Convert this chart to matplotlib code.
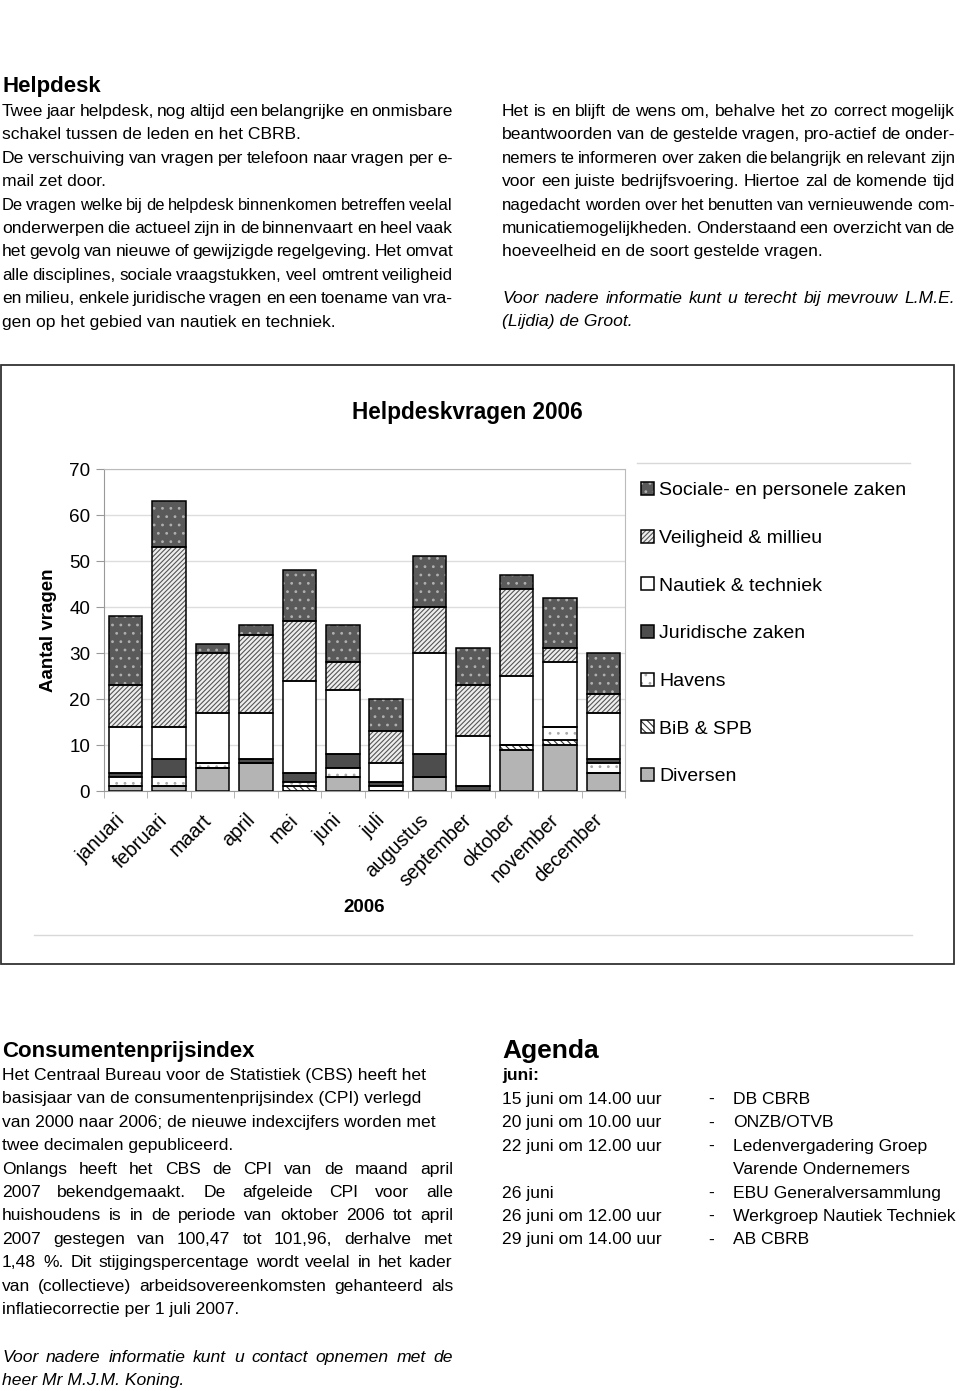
import matplotlib
matplotlib.use('Agg')
import matplotlib.pyplot as plt
from matplotlib.patches import Rectangle
from matplotlib.lines import Line2D
from matplotlib.transforms import ScaledTranslation
import numpy as np

plt.rcParams['font.family'] = ['Liberation Sans', 'DejaVu Sans']
plt.rcParams['hatch.linewidth'] = 0.8

W, H = 960, 1391

# data
maanden = ['januari', 'februari', 'maart', 'april', 'mei', 'juni', 'juli',
           'augustus', 'september', 'oktober', 'november', 'december']
diversen = [1, 1, 5, 6, 0, 3, 0, 3, 0, 9, 10, 4]
bib_spb = [0, 0, 0, 0, 1, 0, 0, 0, 0, 1, 1, 0]
havens = [2, 2, 1, 0, 1, 2, 1, 0, 0, 0, 3, 2]
juridisch = [1, 4, 0, 1, 2, 3, 1, 5, 1, 0, 0, 1]
nautiek = [10, 7, 11, 10, 20, 14, 4, 22, 11, 15, 14, 10]
veiligheid = [9, 39, 13, 17, 13, 6, 7, 10, 11, 19, 3, 4]
sociaal = [15, 10, 2, 2, 11, 8, 7, 11, 8, 3, 11, 9]

reeksen = ['Diversen', 'BiB & SPB', 'Havens', 'Juridische zaken',
           'Nautiek & techniek', 'Veiligheid & millieu', 'Sociale- en personele zaken']
waarden = [diversen, bib_spb, havens, juridisch, nautiek, veiligheid, sociaal]
# facecolor, hatch, hatch colour
stijl = [('#b4b4b4', None, '#b4b4b4'),
         ('white', '\\\\\\\\\\', '#333333'),
         ('white', '..', '#aaaaaa'),
         ('#4d4d4d', None, '#4d4d4d'),
         ('white', None, 'white'),
         ('#eeeeee', '///////', '#555555'),
         ('#5a5a5a', '..', '#b0b0b0')]

fig = plt.figure(figsize=(W/100, H/100), dpi=100)
r = fig.canvas.get_renderer()

def fx(x): return x/W
def fy(y): return 1-y/H

def regel(txt, x0, y, x1=None, **kw):
    # one line of text, justified between x0 and x1 if x1 given
    if x1 is None:
        fig.text(fx(x0), fy(y), txt, va='baseline', **kw)
        return
    woorden = txt.split(' ')
    ts = [fig.text(0, fy(y), w, va='baseline', **kw) for w in woorden]
    while True:
        ws = [t.get_window_extent(r).width for t in ts]
        gap = (x1-x0-sum(ws))/(len(woorden)-1)
        if gap >= 3.2:
            break
        # line too full: shrink the font a bit, like a tight typeset line
        for t in ts:
            t.set_fontsize(t.get_fontsize()-0.1)
    x = x0
    for t, w in zip(ts, ws):
        t.set_x(fx(x))
        x += w+gap

def alinea(regels, x0, x1, y0, lh=23.4, **kw):
    # regels: list of (text, justify)
    for i, (txt, j) in enumerate(regels):
        if txt:
            regel(txt, x0, y0+i*lh, x1 if j else None, **kw)

fs = 12.6

# ---- Helpdesk ----
fig.text(fx(2), fy(92), 'Helpdesk', fontsize=16, fontweight='bold', va='baseline')
alinea([('Twee jaar helpdesk, nog altijd een belangrijke en onmisbare', 1),
        ('schakel tussen de leden en het CBRB.', 0),
        ('De verschuiving van vragen per telefoon naar vragen per e-', 1),
        ('mail zet door.', 0),
        ('De vragen welke bij de helpdesk binnenkomen betreffen veelal', 1),
        ('onderwerpen die actueel zijn in de binnenvaart en heel vaak', 1),
        ('het gevolg van nieuwe of gewijzigde regelgeving. Het omvat', 1),
        ('alle disciplines, sociale vraagstukken, veel omtrent veiligheid', 1),
        ('en milieu, enkele juridische vragen en een toename van vra-', 1),
        ('gen op het gebied van nautiek en techniek.', 0)],
       2, 453, 116, fontsize=fs)

alinea([('Het is en blijft de wens om, behalve het zo correct mogelijk', 1),
        ('beantwoorden van de gestelde vragen, pro-actief de onder-', 1),
        ('nemers te informeren over zaken die belangrijk en relevant zijn', 1),
        ('voor een juiste bedrijfsvoering. Hiertoe zal de komende tijd', 1),
        ('nagedacht worden over het benutten van vernieuwende com-', 1),
        ('municatiemogelijkheden. Onderstaand een overzicht van de', 1),
        ('hoeveelheid en de soort gestelde vragen.', 0)],
       502, 955, 116, fontsize=fs)
alinea([('Voor nadere informatie kunt u terecht bij mevrouw L.M.E.', 1),
        ('(Lijdia) de Groot.', 0)],
       502, 955, 303, fontsize=fs, style='italic')

# ---- chart box ----
fig.add_artist(Rectangle((fx(1), fy(964)), (953)/W, (964-365)/H, transform=fig.transFigure,
                         fill=False, edgecolor='#333333', lw=1.3))
fig.add_artist(Line2D([fx(34), fx(912)], [fy(935), fy(935)], transform=fig.transFigure,
                      color='#d8d8d8', lw=1))
fig.add_artist(Line2D([fx(637), fx(910)], [fy(463), fy(463)], transform=fig.transFigure,
                      color='#d8d8d8', lw=1))
fig.text(fx(467), fy(413), 'Helpdeskvragen 2006', fontsize=16.3, fontweight='bold',
         ha='center', va='center')

ax = fig.add_axes([fx(104), fy(791), (625-104)/W, (791-469)/H])
x = np.arange(len(maanden))
onder = np.zeros(len(maanden))
handles = []
for naam, v, (fc, h, hc) in zip(reeksen, waarden, stijl):
    b1 = ax.bar(x, v, 0.77, bottom=onder, color=fc, edgecolor=hc, hatch=h, lw=0, zorder=3)
    b2 = ax.bar(x, v, 0.77, bottom=onder, fill=False, edgecolor='black', lw=1.1, zorder=4)
    handles.append((b1[0], b2[0]))
    onder += np.array(v)

ax.set_xlim(-0.5, 11.5)
ax.set_ylim(0, 70)
ax.set_yticks(range(0, 71, 10))
ax.set_yticklabels([str(i) for i in range(0, 71, 10)], fontsize=13.6)
ax.yaxis.grid(True, color='#dddddd', lw=1, zorder=0)
ax.set_axisbelow(True)
for s in ax.spines.values():
    s.set_color('#999999')
ax.spines['top'].set_color('#bbbbbb')
ax.spines['right'].set_color('#bbbbbb')
ax.tick_params(axis='y', color='#999999', length=6, pad=4)
ax.set_xticks(x)
ax.set_xticklabels(maanden, rotation=45, ha='right', va='top', rotation_mode='anchor', fontsize=14.2)
ax.tick_params(axis='x', length=0, pad=14)
verschuif = ScaledTranslation(-11/100, 0, fig.dpi_scale_trans)
for t in ax.get_xticklabels():
    t.set_transform(t.get_transform() + verschuif)
ax.set_xticks(np.arange(-0.5, 12, 1), minor=True)
ax.tick_params(axis='x', which='minor', length=5, color='#aaaaaa')
ax.set_ylabel('Aantal vragen', fontsize=13.5, fontweight='bold')
ax.yaxis.set_label_coords(-(104-57)/(625-104), 0.5)
fig.text(fx(364), fy(907), '2006', fontsize=13.5, fontweight='bold', ha='center', va='center')

leg = fig.legend(handles[::-1], reeksen[::-1], loc='upper left',
                 bbox_to_anchor=(fx(641), fy(482)), bbox_transform=fig.transFigure,
                 frameon=False, fontsize=14, handlelength=0.65, handleheight=0.65,
                 handletextpad=0.3, labelspacing=1.56, borderpad=0, borderaxespad=0)

# ---- Consumentenprijsindex ----
fig.text(fx(2), fy(1057), 'Consumentenprijsindex', fontsize=16, fontweight='bold', va='baseline')
alinea([('Het Centraal Bureau voor de Statistiek (CBS) heeft het', 0),
        ('basisjaar van de consumentenprijsindex (CPI) verlegd', 0),
        ('van 2000 naar 2006; de nieuwe indexcijfers worden met', 0),
        ('twee decimalen gepubliceerd.', 0),
        ('Onlangs heeft het CBS de CPI van de maand april', 1),
        ('2007 bekendgemaakt. De afgeleide CPI voor alle', 1),
        ('huishoudens is in de periode van oktober 2006 tot april', 1),
        ('2007 gestegen van 100,47 tot 101,96, derhalve met', 1),
        ('1,48 %. Dit stijgingspercentage wordt veelal in het kader', 1),
        ('van (collectieve) arbeidsovereenkomsten gehanteerd als', 1),
        ('inflatiecorrectie per 1 juli 2007.', 0)],
       2, 453, 1080, fontsize=fs)
alinea([('Voor nadere informatie kunt u contact opnemen met de', 1),
        ('heer Mr M.J.M. Koning.', 0)],
       2, 453, 1362, fontsize=fs, style='italic')

# ---- Agenda ----
fig.text(fx(502), fy(1058), 'Agenda', fontsize=19, fontweight='bold', va='baseline')
fig.text(fx(502), fy(1080), 'juni:', fontsize=fs, fontweight='bold', va='baseline')
data_ag = ['15 juni om 14.00 uur', '20 juni om 10.00 uur', '22 juni om 12.00 uur', '',
           '26 juni', '26 juni om 12.00 uur', '29 juni om 14.00 uur']
wat_ag = ['DB CBRB', 'ONZB/OTVB', 'Ledenvergadering Groep', 'Varende Ondernemers',
          'EBU Generalversammlung', 'Werkgroep Nautiek Techniek', 'AB CBRB']
for i, (d, w) in enumerate(zip(data_ag, wat_ag)):
    y = 1104 + i*23.4
    if d:
        regel(d, 502, y, fontsize=fs)
        regel('-', 708, y, fontsize=fs)
    regel(w, 733, y, fontsize=fs)

fig.savefig('out.png', dpi=100)
